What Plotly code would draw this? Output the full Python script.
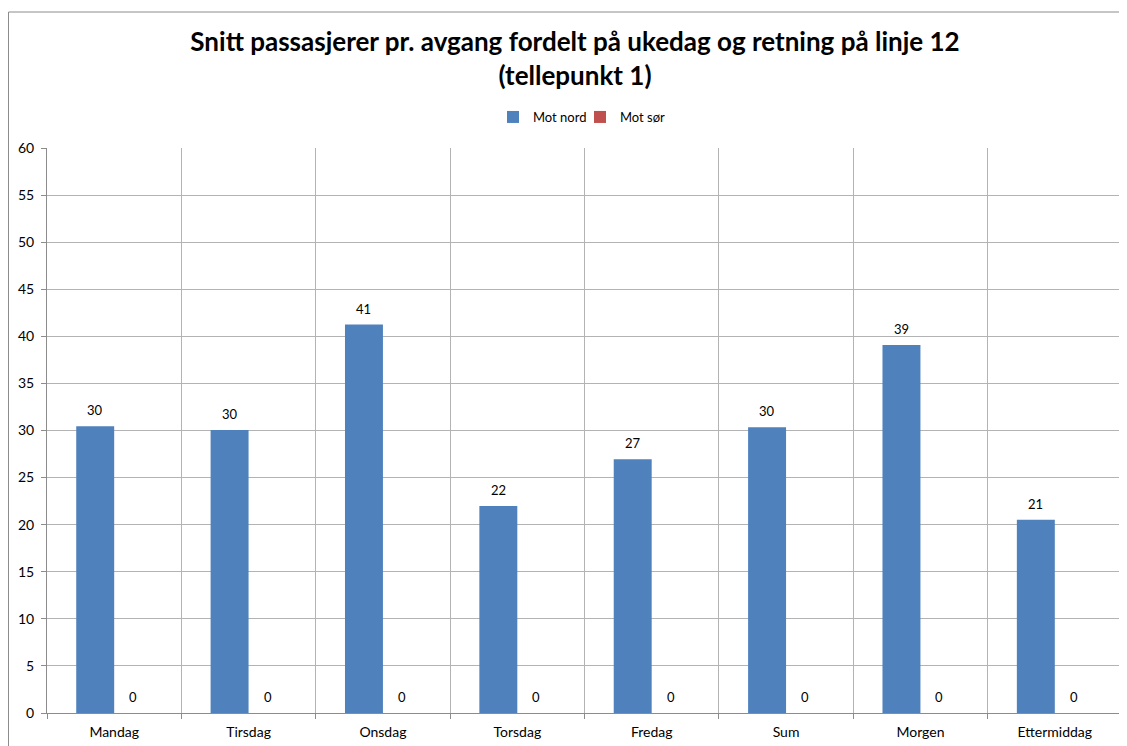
import plotly.graph_objects as go

categories = ["Mandag", "Tirsdag", "Onsdag", "Torsdag", "Fredag", "Sum", "Morgen", "Ettermiddag"]
mot_nord = [30.45, 30.05, 41.25, 21.98, 26.95, 30.35, 39.08, 20.52]
mot_sor = [0, 0, 0, 0, 0, 0, 0, 0]
y_ticks = [0, 5, 10, 15, 20, 25, 30, 35, 40, 45, 50, 55, 60]

FONT = "Lato, 'Open Sans', sans-serif"
W, H = 1119, 738  # page body has an 8px margin

fig = go.Figure()
fig.add_trace(go.Bar(
    x=categories, y=mot_nord, name="Mot nord",
    marker=dict(color="#4f81bd", line=dict(width=0)),
))
fig.add_trace(go.Bar(
    x=categories, y=mot_sor, name="Mot sør",
    marker=dict(color="#c0504d", line=dict(width=0)),
))

annotations = []
for cat, v in zip(categories, mot_nord):
    annotations.append(dict(x=cat, y=v, xref="x", yref="y", text=f"{v:.0f}",
                            showarrow=False, xshift=-19, yshift=16,
                            font=dict(size=13, color="#000000")))
for cat, v in zip(categories, mot_sor):
    annotations.append(dict(x=cat, y=v, xref="x", yref="y", text=f"{v:.0f}",
                            showarrow=False, xshift=19, yshift=16,
                            font=dict(size=13, color="#000000")))

fig.update_layout(
    width=W, height=H,
    margin=dict(l=39, r=5, t=140, b=33, autoexpand=False),
    paper_bgcolor="white", plot_bgcolor="white",
    font=dict(family=FONT, size=14, color="#000000"),
    title=dict(
        text="Snitt passasjerer pr. avgang fordelt på ukedag og retning på linje 12<br>(tellepunkt 1)",
        x=567 / W, xanchor="center", y=1 - 43 / H, yanchor="middle",
        xref="container", yref="container",
        font=dict(family=FONT, size=26, color="#000000", weight="bold"),
    ),
    barmode="group", bargap=0.435, bargroupgap=0,
    legend=dict(
        orientation="h", x=572 / W, xanchor="center", y=1 - 109 / H, yanchor="middle",
        xref="container", yref="container",
        font=dict(size=13), itemwidth=30, traceorder="normal",
        entrywidth=42, entrywidthmode="pixels",
    ),
    showlegend=True,
    annotations=annotations,
    xaxis=dict(
        type="category", tickson="boundaries", showgrid=True,
        gridcolor="#b3b3b3", gridwidth=1, ticks="outside", ticklen=5,
        tickcolor="#8c8c8c", showline=True, linecolor="#8c8c8c",
        tickfont=dict(size=14), automargin=False, ticklabelstandoff=6,
    ),
    yaxis=dict(
        range=[0, 60], tickvals=y_ticks, showgrid=True, gridcolor="#b3b3b3",
        gridwidth=1, ticks="outside", ticklen=5, tickcolor="#8c8c8c",
        showline=True, linecolor="#8c8c8c", zeroline=False,
        tickfont=dict(size=14), automargin=False, ticklabelstandoff=4,
    ),
    shapes=[dict(
        type="rect", xref="paper", yref="paper",
        x0=-38.5 / 1075, x1=1.1, y0=-0.1, y1=1 + 136 / 565,
        line=dict(color="#8c8c8c", width=1), layer="below",
    ), dict(
        type="line", xref="paper", yref="paper",
        x0=1, x1=1, y0=0, y1=1, line=dict(color="#b3b3b3", width=1),
    )],
)

fig.write_html("out.html")
